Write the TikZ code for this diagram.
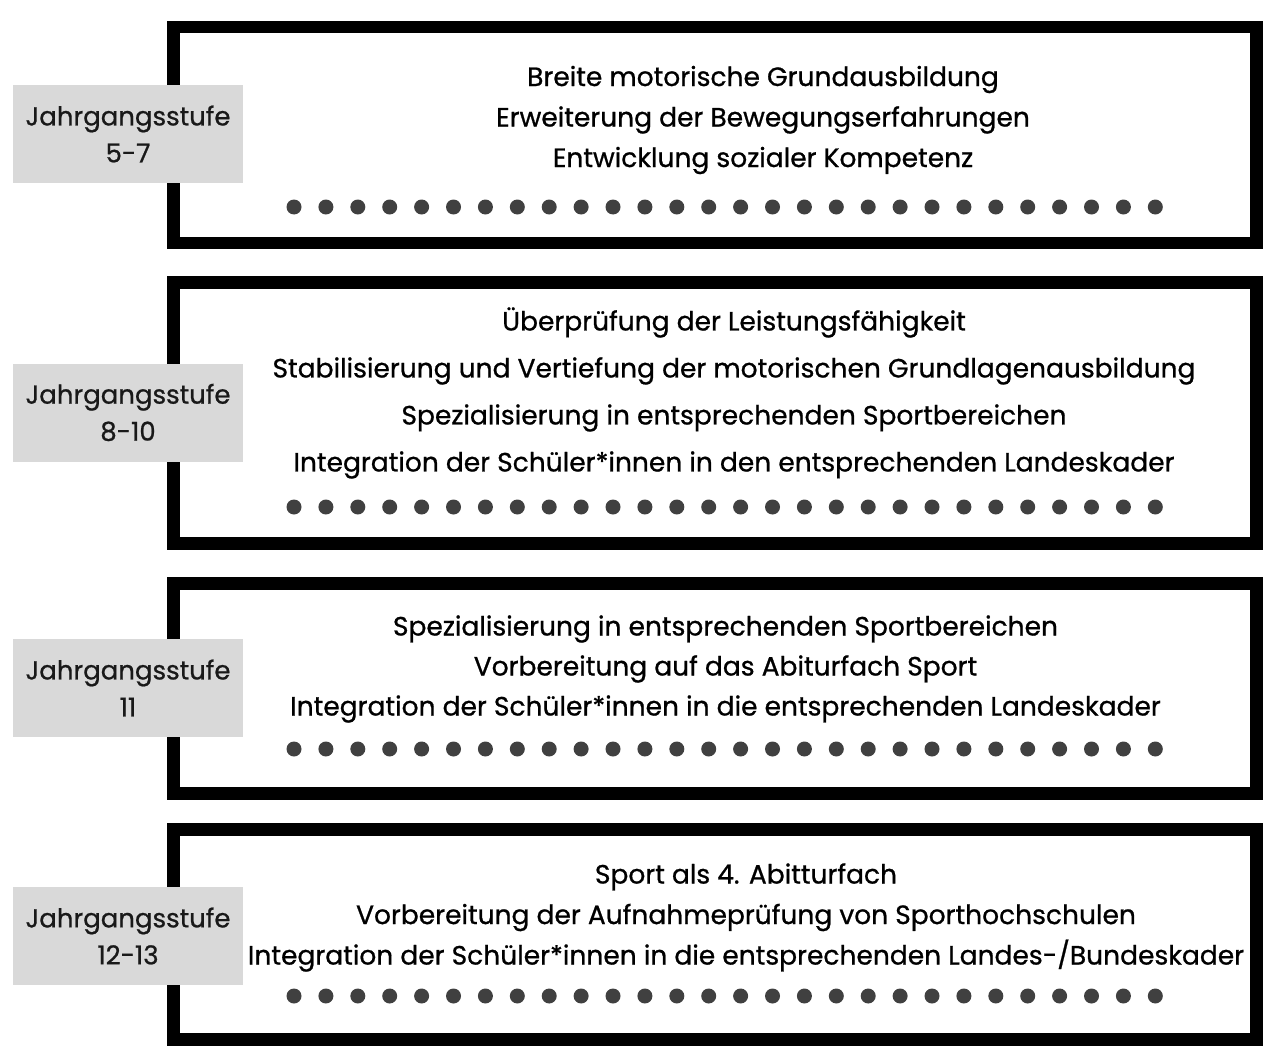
\documentclass[tikz,border=0pt]{standalone}
\usepackage{fontspec}
\setmainfont{Poppins}[FakeBold=0.8]
\usepackage{tikz}

\definecolor{labelgray}{HTML}{D9D9D9}
\definecolor{dotgray}{HTML}{404040}

\tikzset{
  stagebox/.style={draw=black, line width=12.5pt, minimum width=1083pt, inner sep=0pt},
  yearbox/.style={fill=labelgray, minimum width=230pt, minimum height=98pt, align=center,
    font=\fontsize{26}{37}\selectfont, text=black!90},
  goals/.style={align=center, inner sep=0pt}
}

\begin{document}
\begin{tikzpicture}[x=1pt, y=-1pt]
		\useasboundingbox (0,0) rectangle (1280,1062);

		% frames
		\node[stagebox, minimum height=216pt] (box1) at (715,135) {};
		\node[stagebox, minimum height=261pt] (box2) at (715,413) {};
		\node[stagebox, minimum height=210pt] (box3) at (715,688.5) {};
		\node[stagebox, minimum height=210pt] (box4) at (715,934.5) {};

		% year labels
		\node[yearbox] (lab1) at (128,134) {Jahrgangsstufe\\5-7};
		\node[yearbox] (lab2) at (128,412.5) {Jahrgangsstufe\\8-10};
		\node[yearbox] (lab3) at (128,688) {Jahrgangsstufe\\11};
		\node[yearbox] (lab4) at (128,936) {Jahrgangsstufe\\12-13};

		% goals
		\node[goals, font=\fontsize{26.5}{40.5}\selectfont] (txt1) at (763,120)
			{Breite motorische Grundausbildung\\Erweiterung der Bewegungserfahrungen\\Entwicklung sozialer Kompetenz};
		\node[goals, font=\fontsize{26.5}{47}\selectfont] (txt2) at (734,393)
			{Überprüfung der Leistungsfähigkeit\\Stabilisierung und Vertiefung der motorischen Grundlagenausbildung\\Spezialisierung in entsprechenden Sportbereichen\\Integration der Schüler*innen in den entsprechenden Landeskader};
		\node[goals, font=\fontsize{26.5}{40}\selectfont] (txt3) at (725.5,669)
			{Spezialisierung in entsprechenden Sportbereichen\\Vorbereitung auf das Abiturfach Sport\\Integration der Schüler*innen in die entsprechenden Landeskader};
		\node[goals, font=\fontsize{26.5}{40.5}\selectfont] (txt4) at (746,917.5)
			{Sport als 4. Abitturfach\\Vorbereitung der Aufnahmeprüfung von Sporthochschulen\\Integration der Schüler*innen in die entsprechenden Landes-/Bundeskader};

		% dot rows
		\foreach \y in {207,507,749,996}
			\foreach \i in {0,...,27}
				\fill[dotgray] (294+31.9*\i,\y) circle (7.5);
	\end{tikzpicture}
\end{document}
